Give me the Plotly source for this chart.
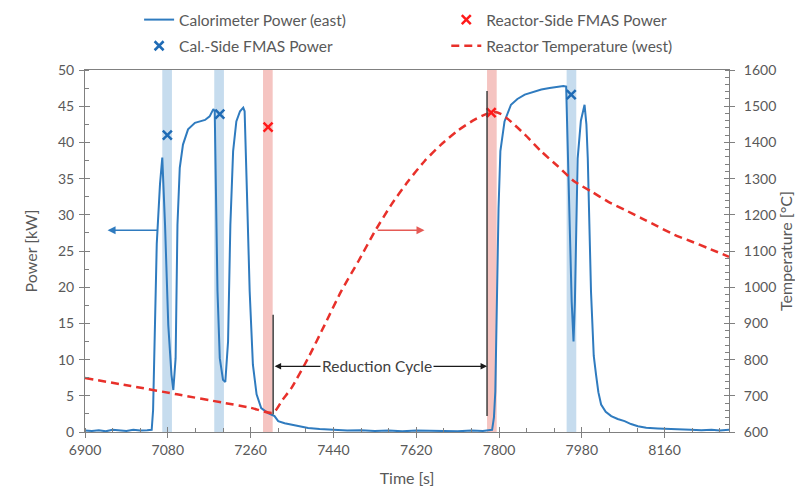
import plotly.graph_objects as go

# ---------------- data ----------------
time_power = [6900, 6915, 6930, 6945, 6960, 6975, 6990, 7005, 7020, 7035, 7045,
              7048, 7052, 7056, 7063, 7068, 7074, 7081, 7088, 7092, 7097, 7101,
              7106, 7113, 7124, 7139, 7150, 7161, 7171, 7176, 7179, 7182, 7184,
              7186, 7188, 7193, 7200, 7205, 7211, 7216, 7222, 7229, 7237, 7244,
              7247, 7252, 7258, 7265, 7273, 7283, 7298, 7312, 7320, 7334, 7349,
              7365, 7385, 7410, 7443, 7470, 7500, 7530, 7560, 7590, 7620, 7650,
              7680, 7710, 7740, 7765, 7785, 7789, 7792, 7796, 7799, 7803, 7812,
              7826, 7840, 7856, 7875, 7892, 7910, 7928, 7940, 7946, 7948, 7950,
              7953, 7958, 7962, 7965, 7968, 7971, 7978, 7986, 7990, 7993, 8000,
              8006, 8011, 8016, 8022, 8032, 8044, 8058, 8073, 8087, 8102, 8120,
              8145, 8170, 8195, 8217, 8240, 8262, 8280, 8300]
power_kw = [0.2, 0.15, 0.25, 0.1, 0.3, 0.2, 0.15, 0.3, 0.2, 0.25, 0.3,
            3.0, 15.0, 26.0, 34.2, 37.9, 28.6, 14.8, 7.9, 5.8, 10.2, 28.6,
            36.5, 39.7, 41.8, 42.7, 42.9, 43.1, 43.6, 44.2, 44.6, 44.3, 35.0,
            25.0, 19.5, 10.2, 7.2, 6.9, 12.5, 28.6, 38.8, 42.9, 44.3, 44.8,
            44.3, 33.2, 19.4, 9.3, 5.2, 3.3, 2.6, 2.2, 1.5, 1.2, 1.0,
            0.8, 0.55, 0.4, 0.3, 0.2, 0.25, 0.15, 0.2, 0.1, 0.2, 0.15,
            0.2, 0.1, 0.2, 0.15, 0.3, 2.0, 5.6, 19.4, 30.9, 38.8, 42.9,
            45.2, 46.0, 46.6, 47.0, 47.3, 47.5, 47.7, 47.8, 47.7, 43.0, 36.0,
            28.0, 18.0, 12.5, 18.0, 28.0, 37.8, 43.0, 45.2, 42.5, 37.8, 19.4,
            10.5, 7.9, 5.5, 3.8, 2.8, 2.2, 1.8, 1.5, 1.1, 0.8, 0.6,
            0.5, 0.4, 0.35, 0.3, 0.25, 0.3, 0.2, 0.3]

time_temp = [6900, 7000, 7100, 7200, 7260, 7309, 7330, 7349, 7385, 7421, 7457,
             7494, 7530, 7566, 7602, 7638, 7674, 7711, 7747, 7772, 7790, 7805,
             7819, 7856, 7892, 7928, 7964, 8000, 8036, 8073, 8109, 8145, 8181,
             8217, 8254, 8300]
temp_c = [749, 727, 704, 681, 667, 653, 690, 722, 804, 896, 989,
          1071, 1154, 1228, 1292, 1348, 1394, 1433, 1463, 1478, 1484, 1478,
          1465, 1422, 1375, 1334, 1292, 1265, 1237, 1214, 1191, 1168, 1145,
          1127, 1108, 1084]

cal_fmas_time = [7079, 7193, 7957]
cal_fmas_power = [41.0, 43.9, 46.6]
reactor_fmas_time = [7298, 7783]
reactor_fmas_power = [42.1, 44.1]

cal_bands = [(7068, 7089), (7181, 7202), (7947, 7968)]
reactor_bands = [(7287, 7308), (7774, 7795)]

reduction_start = 7309
reduction_end = 7774
reduction_label_time = 7535
reduction_arrow_power = 9.07
reduction_line_start = (2.4, 16.2)
reduction_line_end = (2.2, 47.1)

power_arrow = (7061, 6949, 27.86)
temp_arrow = (7533, 7638, 27.86)

x_range = [6900, 8300]
x_dtick = 180
power_range = [0, 50]
temp_range = [600, 1600]

# ---------------- style ----------------
BLUE = "#2f7bbf"
RED = "#e8302a"
RED_MARK = "#ff1a1a"
GRAY = "#595959"
AXIS = "#808080"
FONT = "Lato"

fig = go.Figure()

fig.add_trace(go.Scatter(
    x=time_power, y=power_kw, mode="lines", name="Calorimeter Power (east)",
    line=dict(color=BLUE, width=2), legend="legend", legendgroup="a", legendrank=1))
fig.add_trace(go.Scatter(
    x=time_temp, y=temp_c, mode="lines", name="Reactor Temperature (west)", yaxis="y2",
    line=dict(color=RED, width=2.5, dash="8px,5px", shape="spline", smoothing=0.6),
    legend="legend2", legendgroup="d", legendrank=2))
fig.add_trace(go.Scatter(
    x=cal_fmas_time, y=cal_fmas_power, mode="markers", name="Cal.-Side FMAS Power",
    marker=dict(symbol="x-thin", size=9, line=dict(color="#1f6bb5", width=2.5)),
    legend="legend", legendgroup="b", legendrank=2))
fig.add_trace(go.Scatter(
    x=reactor_fmas_time, y=reactor_fmas_power, mode="markers", name="Reactor-Side FMAS Power",
    marker=dict(symbol="x-thin", size=9, line=dict(color=RED_MARK, width=2.5)),
    legend="legend2", legendgroup="c", legendrank=1))

shapes = []
for a, b in cal_bands:
    shapes.append(dict(type="rect", xref="x", yref="paper", x0=a, x1=b, y0=0, y1=1,
                       fillcolor="#c6dcee", line=dict(width=0), layer="below"))
for a, b in reactor_bands:
    shapes.append(dict(type="rect", xref="x", yref="paper", x0=a, x1=b, y0=0, y1=1,
                       fillcolor="#f5c4c1", line=dict(width=0), layer="below"))
shapes.append(dict(type="line", xref="x", yref="y", x0=reduction_start, x1=reduction_start,
                   y0=reduction_line_start[0], y1=reduction_line_start[1],
                   line=dict(color="#404040", width=1.5)))
shapes.append(dict(type="line", xref="x", yref="y", x0=reduction_end, x1=reduction_end,
                   y0=reduction_line_end[0], y1=reduction_line_end[1],
                   line=dict(color="#404040", width=1.5)))

annotations = [
    dict(x=power_arrow[1], y=power_arrow[2], ax=power_arrow[0], ay=power_arrow[2],
         xref="x", yref="y", axref="x", ayref="y", text="", showarrow=True,
         arrowhead=2, arrowsize=1, arrowwidth=1.6, arrowcolor=BLUE),
    dict(x=temp_arrow[1], y=temp_arrow[2], ax=temp_arrow[0], ay=temp_arrow[2],
         xref="x", yref="y", axref="x", ayref="y", text="", showarrow=True,
         arrowhead=2, arrowsize=1, arrowwidth=1.6, arrowcolor="#e55a55"),
    dict(x=reduction_end, y=reduction_arrow_power, ax=reduction_start, ay=reduction_arrow_power,
         xref="x", yref="y", axref="x", ayref="y", text="", showarrow=True,
         arrowhead=2, startarrowhead=2, arrowside="end+start", arrowsize=1,
         arrowwidth=1.3, arrowcolor="#1a1a1a"),
    dict(x=reduction_label_time, y=reduction_arrow_power, xref="x", yref="y",
         text="Reduction Cycle", showarrow=False, bgcolor="white",
         font=dict(family=FONT, size=15.5, color="#404040")),
]

tickfont = dict(family=FONT, size=14, color=GRAY)
titlefont = dict(family=FONT, size=16, color=GRAY)
legendfont = dict(family=FONT, size=15.5, color=GRAY)

fig.update_layout(
    width=803, height=489,
    margin=dict(l=77, r=82, t=62, b=65, autoexpand=False),
    paper_bgcolor="white", plot_bgcolor="white",
    font=dict(family=FONT, color=GRAY),
    shapes=shapes, annotations=annotations,
    xaxis=dict(range=x_range, tick0=x_range[0], dtick=x_dtick, ticks="outside",
               ticklen=5, tickcolor=AXIS, showline=True, linecolor=AXIS, linewidth=1,
               mirror=True, showgrid=False, zeroline=False, tickfont=tickfont,
               minor=dict(dtick=60, ticks="inside", ticklen=4, tickcolor=AXIS, showgrid=False),
               title=dict(text="Time [s]", font=titlefont, standoff=16)),
    yaxis=dict(range=power_range, dtick=5, ticks="outside", ticklen=5, tickcolor=AXIS,
               showline=True, linecolor=AXIS, showgrid=False, zeroline=False,
               tickfont=tickfont, ticklabelstandoff=2,
               minor=dict(dtick=2.5, ticks="inside", ticklen=4, tickcolor=AXIS, showgrid=False),
               title=dict(text="Power [kW]", font=titlefont, standoff=16)),
    yaxis2=dict(range=temp_range, dtick=100, ticks="outside", ticklen=5, tickcolor=AXIS,
                overlaying="y", side="right", anchor="x",
                showline=True, linecolor=AXIS, showgrid=False, zeroline=False,
                tickfont=tickfont, ticklabelstandoff=6,
                minor=dict(dtick=20, ticks="inside", ticklen=4, tickcolor=AXIS, showgrid=False),
                title=dict(text="Temperature [°C]", font=titlefont, standoff=4)),
    # overlay axes drawing the inner half of the major ticks
    xaxis2=dict(range=x_range, tick0=x_range[0], dtick=x_dtick, ticks="inside", ticklen=5,
                tickcolor=AXIS, overlaying="x", anchor="y", side="bottom",
                showticklabels=False, showgrid=False, zeroline=False, showline=False),
    yaxis3=dict(range=power_range, dtick=5, ticks="inside", ticklen=5, tickcolor=AXIS,
                overlaying="y", anchor="x", side="left", showticklabels=False,
                showgrid=False, zeroline=False, showline=False),
    yaxis4=dict(range=temp_range, dtick=100, ticks="inside", ticklen=5, tickcolor=AXIS,
                overlaying="y", anchor="x", side="right", showticklabels=False,
                showgrid=False, zeroline=False, showline=False),
    legend=dict(x=0.084, y=1.185, xanchor="left", yanchor="top", orientation="v",
                traceorder="grouped", tracegroupgap=3, bgcolor="rgba(0,0,0,0)",
                font=legendfont),
    legend2=dict(x=0.561, y=1.185, xanchor="left", yanchor="top", orientation="v",
                 traceorder="grouped", tracegroupgap=3, bgcolor="rgba(0,0,0,0)",
                 font=legendfont),
    showlegend=True,
)

# invisible helper traces so the overlay tick axes are drawn
fig.add_trace(go.Scatter(x=[None], y=[None], xaxis="x2", yaxis="y3", showlegend=False, hoverinfo="skip"))
fig.add_trace(go.Scatter(x=[None], y=[None], xaxis="x", yaxis="y4", showlegend=False, hoverinfo="skip"))

fig.write_html("out.html")
